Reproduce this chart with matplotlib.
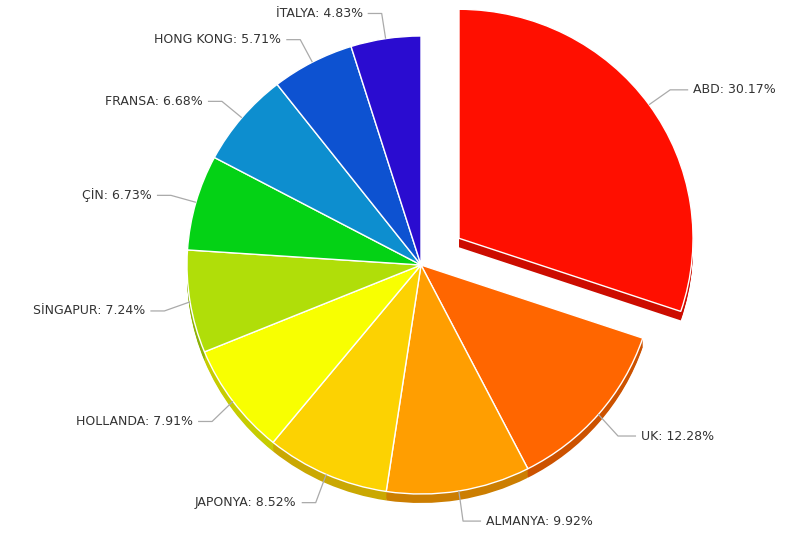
import numpy as np
import matplotlib
matplotlib.use("Agg")
import matplotlib.pyplot as plt
from matplotlib.colors import to_rgb

# country shares (%)
countries = ["ABD", "UK", "ALMANYA", "JAPONYA", "HOLLANDA",
             "SİNGAPUR", "ÇİN", "FRANSA", "HONG KONG", "İTALYA"]
shares = [30.17, 12.28, 9.92, 8.52, 7.91, 7.24, 6.73, 6.68, 5.71, 4.83]
colors = ["#FF0F00", "#FF6600", "#FF9E01", "#FCD202", "#F8FF01",
          "#B0DE09", "#04D215", "#0D8ECF", "#0D52D1", "#2A0CD0"]
explode = [0.2, 0, 0, 0, 0, 0, 0, 0, 0, 0]   # fraction of the radius

W, H = 795, 537
sy = 229 / 234          # slight vertical squash of the tilted pie
R = 234
cx, cy = 421, (H - 265) / sy
depth = 9

fig = plt.figure(figsize=(W / 100, H / 100), dpi=100)
ax = fig.add_axes([0, 0, 1, 1])

side_colors = [tuple(c * 0.8 for c in to_rgb(col)) for col in colors]
# pie() takes the explode offset in data units
offsets = [e * R for e in explode]

# side of the pie: stacked copies shifted downwards
for d in range(depth, 0, -1):
    ax.pie(shares, colors=side_colors, explode=offsets, startangle=90,
           counterclock=False, radius=R, center=(cx, cy - d / sy),
           wedgeprops=dict(linewidth=0))

wedges, _ = ax.pie(shares, colors=colors, explode=offsets, startangle=90,
                   counterclock=False, radius=R, center=(cx, cy),
                   wedgeprops=dict(edgecolor="white", linewidth=1))

# labels with leader lines
for w, name, val in zip(wedges, countries, shares):
    ang = np.deg2rad((w.theta1 + w.theta2) / 2)
    ox, oy = w.center
    x0 = ox + R * np.cos(ang)
    y0 = oy + R * np.sin(ang)
    x1 = ox + (R + 26) * np.cos(ang)
    y1 = oy + (R + 26) * np.sin(ang)
    if np.sin(ang) < 0:
        # lower half sits on the side band, push the labels down a bit
        y1 -= 5 / sy
    side = 1 if np.cos(ang) >= 0 else -1
    x2 = x1 + side * (18 if side > 0 else 14)
    ax.plot([x0, x1, x2], [y0, y1, y1], color="#aaaaaa", lw=0.9,
            solid_capstyle="butt")
    ax.text(x2 + side * 5, y1, f"{name}: {val:.2f}%",
            ha="left" if side > 0 else "right", va="center",
            fontsize=9, color="#333333")

ax.set_xlim(0, W)
ax.set_ylim(0, H / sy)
ax.set_aspect("auto")
ax.axis("off")

fig.savefig("out.png", dpi=100, facecolor="white")
